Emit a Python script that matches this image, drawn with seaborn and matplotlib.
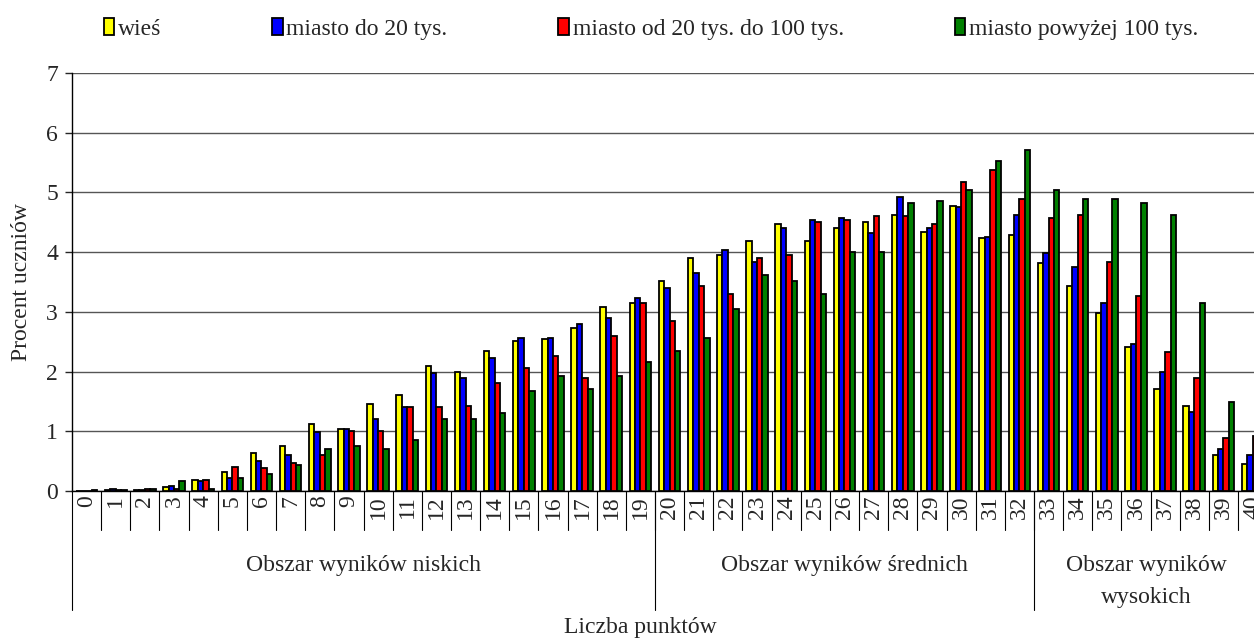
import numpy as np
import pandas as pd
import seaborn as sns
import matplotlib.pyplot as plt

# liczba punktow 0..40
punkty = list(range(41))

wies = [0.00, 0.01, 0.02, 0.06, 0.19, 0.31, 0.63, 0.75, 1.13, 1.04,
        1.46, 1.61, 2.09, 2.00, 2.35, 2.51, 2.54, 2.73, 3.08, 3.14,
        3.52, 3.90, 3.96, 4.19, 4.47, 4.19, 4.41, 4.51, 4.63, 4.34,
        4.78, 4.23, 4.28, 3.81, 3.43, 2.98, 2.41, 1.71, 1.42, 0.60,
        0.45]
miasto_do_20 = [0.00, 0.03, 0.02, 0.09, 0.16, 0.22, 0.51, 0.60, 0.98, 1.04,
                1.20, 1.40, 1.97, 1.90, 2.22, 2.57, 2.57, 2.79, 2.89, 3.24,
                3.40, 3.65, 4.03, 3.84, 4.41, 4.54, 4.57, 4.32, 4.92, 4.41,
                4.76, 4.25, 4.63, 3.99, 3.75, 3.14, 2.47, 2.00, 1.33, 0.70,
                0.60]
miasto_20_100 = [0.00, 0.01, 0.03, 0.03, 0.19, 0.41, 0.38, 0.47, 0.60, 1.01,
                 1.01, 1.40, 1.40, 1.43, 1.81, 2.06, 2.26, 1.90, 2.60, 3.14,
                 2.85, 3.43, 3.30, 3.90, 3.96, 4.51, 4.54, 4.60, 4.60, 4.47,
                 5.17, 5.37, 4.89, 4.57, 4.63, 3.84, 3.27, 2.32, 1.90, 0.89,
                 0.92]
miasto_pow_100 = [0.01, 0.01, 0.03, 0.17, 0.03, 0.22, 0.28, 0.44, 0.70, 0.75,
                  0.70, 0.85, 1.20, 1.20, 1.30, 1.68, 1.93, 1.71, 1.93, 2.16,
                  2.35, 2.57, 3.04, 3.61, 3.52, 3.30, 4.00, 4.00, 4.82, 4.85,
                  5.04, 5.52, 5.71, 5.04, 4.89, 4.89, 4.82, 4.63, 3.14, 1.49,
                  1.90]

grupy = ['wieś', 'miasto do 20 tys.', 'miasto od 20 tys. do 100 tys.', 'miasto powyżej 100 tys.']
kolory = ['#ffff00', '#0000ff', '#ff0000', '#008000']

obszary = ['Obszar wyników niskich', 'Obszar wyników średnich', 'Obszar wyników\nwysokich']
granice = [-0.5, 19.5, 32.5]

df = pd.DataFrame({
    'punkty': punkty * 4,
    'grupa': np.repeat(grupy, len(punkty)),
    'procent': wies + miasto_do_20 + miasto_20_100 + miasto_pow_100,
})

sns.set_style('white')
plt.rcParams['font.family'] = ['Liberation Serif', 'DejaVu Serif']
FS = 17

fig = plt.figure(figsize=(12.54, 6.39), dpi=100)
ax = fig.add_axes([72 / 1254, 1 - 491 / 639, 41 * 29.15 / 1254, 418 / 639])

sns.barplot(data=df, x='punkty', y='procent', hue='grupa', hue_order=grupy,
            palette=kolory, width=0.74, edgecolor='black', linewidth=1.3,
            saturation=1, ax=ax, zorder=3)

ax.set_xlim(-0.5, 40.5)
ax.set_ylim(0, 7)
ax.set_yticks(range(8))
ax.yaxis.grid(True, color='#555555', linewidth=1, zorder=0)
ax.set_axisbelow(True)
for s in ['top', 'right']:
    ax.spines[s].set_visible(False)
ax.spines['left'].set_color('black')
ax.spines['bottom'].set_color('black')
ax.spines['left'].set_linewidth(1)
ax.spines['bottom'].set_linewidth(1)

ax.tick_params(axis='y', left=True, length=5, width=1, labelsize=FS, pad=5)
ax.tick_params(axis='x', bottom=False, length=0, labelsize=FS, pad=3)
ax.set_xticks(punkty)
ax.set_xticklabels([str(p) for p in punkty], rotation=90)
ax.set_xlabel('')
ax.set_ylabel('Procent uczniów', fontsize=FS, labelpad=10)

# separatory pod osia
trans = ax.get_xaxis_transform()
for i in range(41):
    ax.plot([i + 0.5, i + 0.5], [0, -39 / 418], color='black', lw=0.8,
            transform=trans, clip_on=False)
for g in granice:
    ax.plot([g, g], [0, -119 / 418], color='black', lw=0.8,
            transform=trans, clip_on=False)

srodki = [9.5, 26, 36.35]
for tekst, xs in zip(obszary, srodki):
    ax.text(xs, -64 / 418, tekst, transform=trans, ha='center', va='top',
            fontsize=FS, linespacing=1.7)

fig.text(640 / 1254, 1 - 628 / 639, 'Liczba punktów', ha='center', va='center', fontsize=FS)

ax.legend_.remove()
uchwyty = [plt.Rectangle((0, 0), 1, 1, facecolor=k, edgecolor='black', linewidth=1.3) for k in kolory]
fig.legend(uchwyty, grupy, loc='center', bbox_to_anchor=(0.519, 1 - 29 / 639), ncol=4,
           frameon=False, fontsize=FS, handlelength=0.45, handleheight=0.75,
           handletextpad=0.15, columnspacing=4.7)

fig.savefig('out.png', dpi=100)
plt.close(fig)
